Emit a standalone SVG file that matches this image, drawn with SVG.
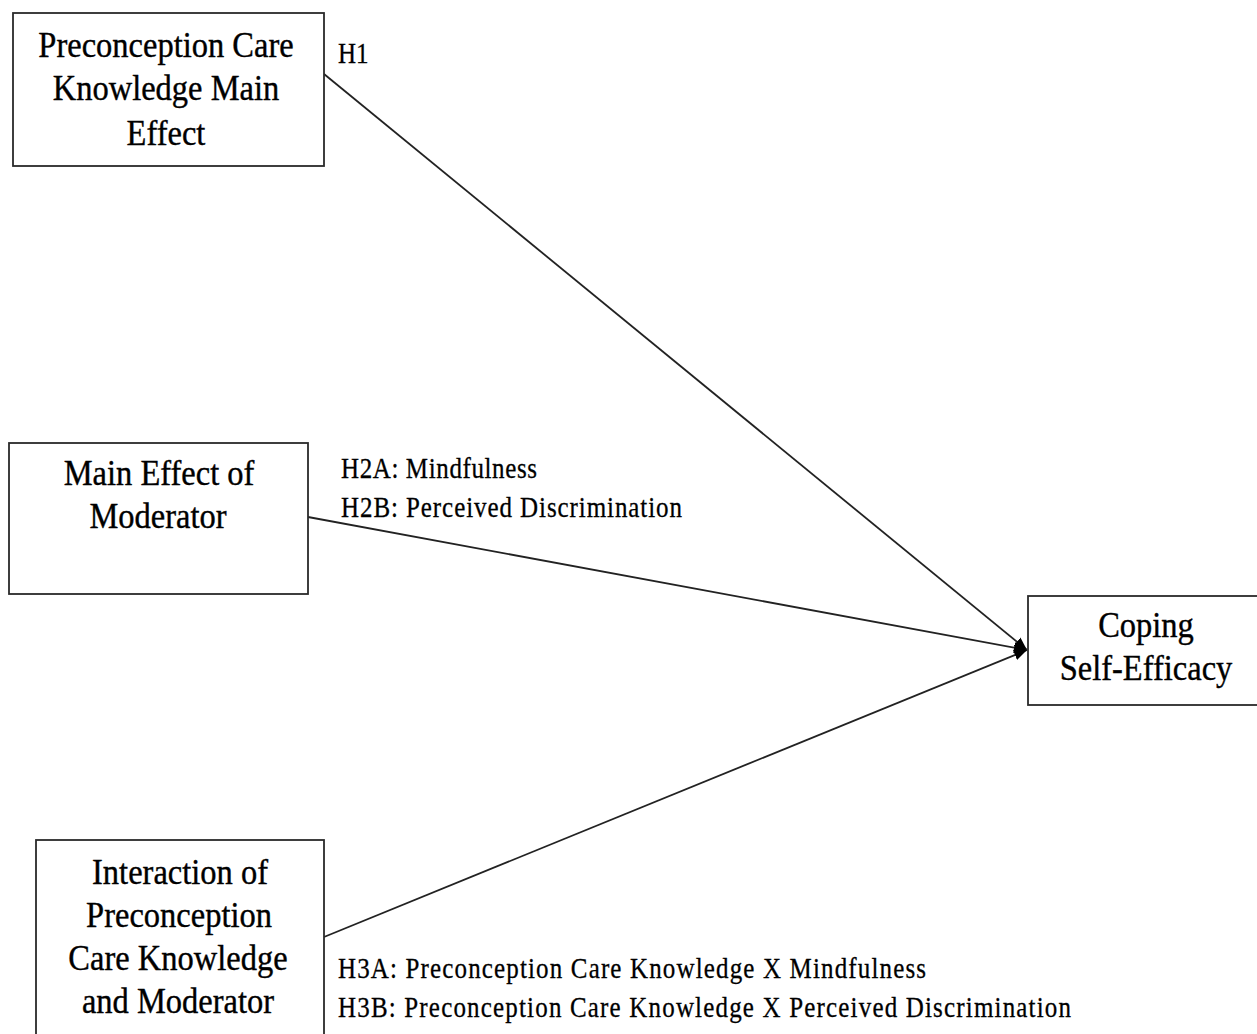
<svg xmlns="http://www.w3.org/2000/svg" width="1257" height="1034" viewBox="0 0 1257 1034">
<style>
.box{fill:#fff;stroke:#2a2a2a;stroke-width:1.8}
.t{font-family:"Liberation Serif","Times New Roman",serif;font-size:32.5px;fill:#000;stroke:#000;stroke-width:0.35;text-anchor:middle}
.l{font-family:"Liberation Serif","Times New Roman",serif;font-size:25px;fill:#000;stroke:#000;stroke-width:0.25}
.c{stroke:#222;stroke-width:1.8;fill:none}
</style>
<defs>
<marker id="ah" markerUnits="userSpaceOnUse" markerWidth="14" markerHeight="14" viewBox="0 0 14 14" refX="13" refY="7" orient="auto">
<path d="M0,1.5 L13,7 L0,12.5 Z" fill="#000"/>
</marker>
</defs>
<rect width="1257" height="1034" fill="#fff"/>
<g id="connectors">
<line class="c" x1="324" y1="74" x2="1027" y2="650" marker-end="url(#ah)"/>
<line class="c" x1="308" y1="517" x2="1027" y2="650" marker-end="url(#ah)"/>
<line class="c" x1="324" y1="937" x2="1027" y2="650" marker-end="url(#ah)"/>
</g>
<g id="node-pck">
<rect class="box" x="13" y="13" width="311" height="153"/>
<text class="t" transform="translate(166,57) scale(1,1.12)">Preconception Care</text>
<text class="t" transform="translate(166,100) scale(1,1.12)">Knowledge  Main</text>
<text class="t" transform="translate(166,145) scale(1,1.12)">Effect</text>
</g>
<g id="node-moderator">
<rect class="box" x="9" y="443" width="299" height="151"/>
<text class="t" transform="translate(159,485) scale(1,1.12)">Main Effect of</text>
<text class="t" transform="translate(158,528) scale(1,1.12)">Moderator</text>
</g>
<g id="node-coping">
<rect class="box" x="1028" y="596" width="240" height="109"/>
<text class="t" transform="translate(1146,637) scale(1,1.12)">Coping</text>
<text class="t" transform="translate(1146,680) scale(1,1.12)">Self-Efficacy</text>
</g>
<g id="node-interaction">
<rect class="box" x="36" y="840" width="288" height="210"/>
<text class="t" transform="translate(180,884) scale(1,1.12)">Interaction of</text>
<text class="t" transform="translate(179,927) scale(1,1.12)">Preconception</text>
<text class="t" transform="translate(178,970) scale(1,1.12)">Care Knowledge</text>
<text class="t" transform="translate(178,1013) scale(1,1.12)">and Moderator</text>
</g>
<g id="labels">
<text class="l" transform="translate(338,63) scale(1,1.18)">H1</text>
<text class="l" transform="translate(341,478) scale(1,1.18)" textLength="196" lengthAdjust="spacing">H2A: Mindfulness</text>
<text class="l" transform="translate(341,517) scale(1,1.18)" textLength="341" lengthAdjust="spacing">H2B: Perceived Discrimination</text>
<text class="l" transform="translate(338,978) scale(1,1.18)" textLength="588" lengthAdjust="spacing">H3A: Preconception Care Knowledge X Mindfulness</text>
<text class="l" transform="translate(338,1017) scale(1,1.18)" textLength="733" lengthAdjust="spacing">H3B: Preconception Care Knowledge X Perceived Discrimination</text>
</g>
</svg>
